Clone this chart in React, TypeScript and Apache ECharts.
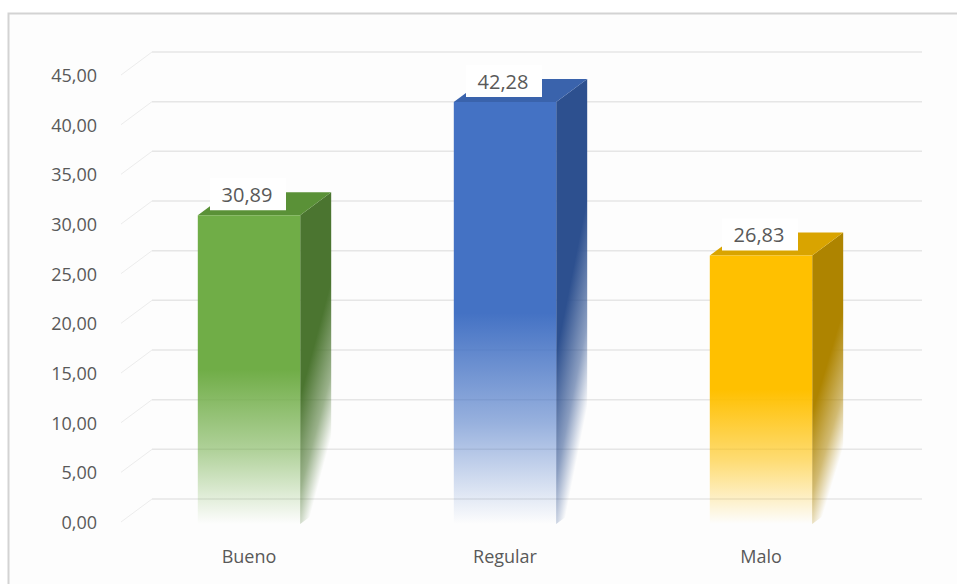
import React, { useEffect, useRef } from "react";
import * as echarts from "echarts";

const categories = ["Bueno", "Regular", "Malo"];
const values = [30.89, 42.28, 26.83];
const frontColors = ["#70AD47", "#4472C4", "#FFC000"];
const topColors = ["#5A9137", "#3A63AC", "#D9A400"];
const sideColors = ["#4B7530", "#2D508F", "#AE8400"];
const yTicks = [0, 5, 10, 15, 20, 25, 30, 35, 40, 45];

const DX = 31;
const DY = -23;
const FONT = "'Open Sans', 'Liberation Sans', sans-serif";

function fmt(v: number): string {
  return v.toFixed(2).replace(".", ",");
}

function hexA(hex: string, a: number): string {
  const h = hex.replace("#", "");
  const r = parseInt(h.slice(0, 2), 16);
  const g = parseInt(h.slice(2, 4), 16);
  const b = parseInt(h.slice(4, 6), 16);
  return `rgba(${r},${g},${b},${a})`;
}

export default function App() {
  const ref = useRef<HTMLDivElement>(null);

  useEffect(() => {
    if (!ref.current) return;
    const chart = echarts.init(ref.current, null, { renderer: "svg" });

    const option: any = {
      animation: false,
      backgroundColor: "#ffffff",
      graphic: [
        {
          type: "rect",
          z: -10,
          silent: true,
          shape: { x: 8.5, y: 13.5, width: 1000, height: 700 },
          style: { fill: "#fdfdfd", stroke: "#d3d3d3", lineWidth: 2 },
        },
      ],
      grid: { left: 121, right: 68, top: 75, bottom: 62 },
      xAxis: {
        type: "category",
        data: categories,
        axisLine: { show: false },
        axisTick: { show: false },
        axisLabel: {
          color: "#595959",
          fontSize: 18,
          fontFamily: FONT,
          margin: 25,
        },
      },
      yAxis: {
        type: "value",
        min: 0,
        max: 45,
        interval: 5,
        splitLine: { show: false },
        axisLine: { show: false },
        axisTick: { show: false },
        axisLabel: {
          color: "#595959",
          fontSize: 18,
          fontFamily: FONT,
          margin: 24,
          padding: [12, 0, 0, 0],
          formatter: (v: number) => fmt(v),
        },
      },
      series: [
        {
          type: "custom",
          z: 1,
          silent: true,
          data: yTicks.map((t) => [0, t]),
          renderItem: (params: any, api: any) => {
            const cs = params.coordSys;
            const y = api.coord([0, api.value(1)])[1];
            return {
              type: "group",
              children: [
                {
                  type: "line",
                  shape: { x1: cs.x, y1: y, x2: cs.x + DX, y2: y + DY },
                  style: { stroke: "#ececec", lineWidth: 1 },
                },
                {
                  type: "line",
                  shape: {
                    x1: cs.x + DX,
                    y1: y + DY,
                    x2: cs.x + cs.width + DX + 2,
                    y2: y + DY,
                  },
                  style: { stroke: "#e6e6e6", lineWidth: 1.5 },
                },
              ],
            };
          },
        },
        {
          type: "custom",
          z: 2,
          data: values.map((v, i) => [i, v]),
          renderItem: (params: any, api: any) => {
            const i = params.dataIndex;
            const v = api.value(1);
            const top = api.coord([api.value(0), v]);
            const base = api.coord([api.value(0), 0]);
            const bw = api.size([1, 0])[0] * 0.4;
            const cx = top[0];
            const x0 = cx - bw / 2;
            const x1 = cx + bw / 2;
            const yt = top[1];
            const yb = base[1] + 2;
            const fc = frontColors[i];
            const sc = sideColors[i];
            const tc = topColors[i];
            const frontGrad = new echarts.graphic.LinearGradient(0, 0, 0, 1, [
              { offset: 0, color: fc },
              { offset: 0.5, color: fc },
              { offset: 0.76, color: hexA(fc, 0.55) },
              { offset: 1, color: hexA(fc, 0.0) },
            ]);
            const sideGrad = new echarts.graphic.LinearGradient(0, 0, 0.35, 1, [
              { offset: 0, color: sc },
              { offset: 0.55, color: sc },
              { offset: 0.8, color: hexA(sc, 0.55) },
              { offset: 0.97, color: hexA(sc, 0.0) },
              { offset: 1, color: hexA(sc, 0.0) },
            ]);
            const boxW = 76;
            const boxH = 32;
            return {
              type: "group",
              children: [
                {
                  type: "polygon",
                  shape: {
                    points: [
                      [x1, yt],
                      [x1 + DX, yt + DY],
                      [x1 + DX, yb + DY],
                      [x1, yb],
                    ],
                  },
                  style: { fill: sideGrad },
                },
                {
                  type: "polygon",
                  shape: {
                    points: [
                      [x0, yt],
                      [x1, yt],
                      [x1 + DX, yt + DY],
                      [x0 + DX, yt + DY],
                    ],
                  },
                  style: { fill: tc },
                },
                {
                  type: "rect",
                  shape: { x: x0, y: yt, width: bw, height: yb - yt },
                  style: { fill: frontGrad },
                },
                {
                  type: "rect",
                  shape: {
                    x: cx - boxW / 2 - 1,
                    y: yt - 5 - boxH,
                    width: boxW,
                    height: boxH,
                  },
                  style: { fill: "#ffffff" },
                },
                {
                  type: "text",
                  x: cx - 2,
                  y: yt - 21,
                  style: {
                    text: fmt(v),
                    fill: "#595959",
                    font: `20px ${FONT}`,
                    align: "center",
                    verticalAlign: "middle",
                  },
                },
              ],
            };
          },
        },
      ],
    };

    chart.setOption(option);
    return () => chart.dispose();
  }, []);

  return (
    <div
      ref={ref}
      style={{ position: "fixed", left: 0, top: 0, width: 957, height: 584 }}
    />
  );
}
